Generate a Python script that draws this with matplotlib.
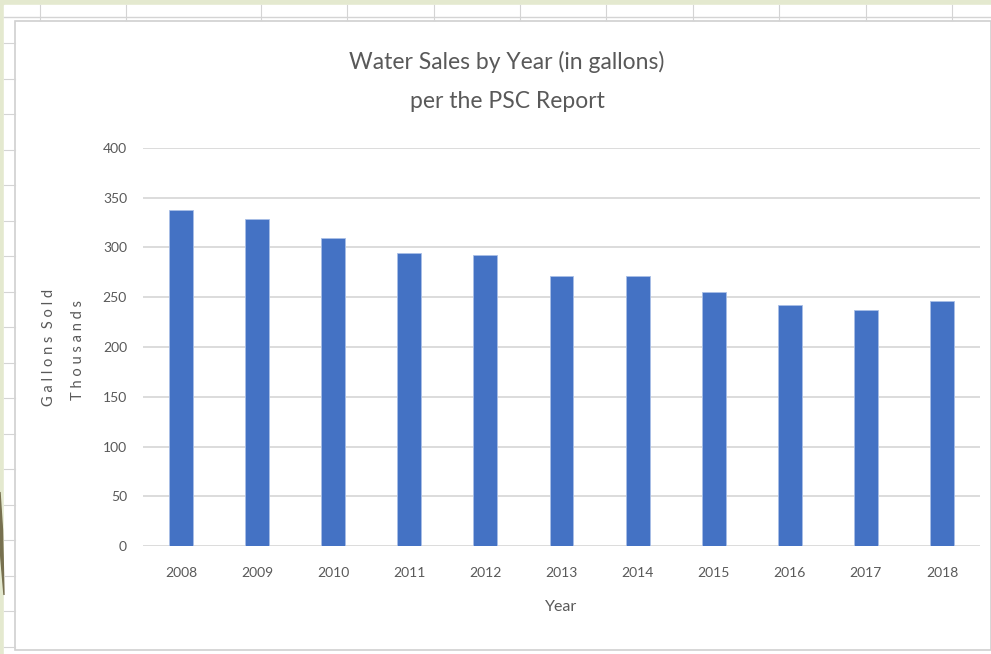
import numpy as np
import matplotlib.pyplot as plt
from matplotlib.patches import Rectangle, Polygon

# data (thousands of gallons)
years = ['2008', '2009', '2010', '2011', '2012', '2013',
         '2014', '2015', '2016', '2017', '2018']
sales = [338, 329, 310, 294, 292, 271, 271, 255, 242, 237, 246]
yticks = [0, 50, 100, 150, 200, 250, 300, 350, 400]

grey = '#595959'
plt.rcParams['font.family'] = ['Lato', 'DejaVu Sans']

fig = plt.figure(figsize=(9.91, 6.54), dpi=100)
fig.patch.set_facecolor('white')

W, H = 991.0, 654.0

# spreadsheet backdrop, drawn in pixel coords
bg = fig.add_axes([0, 0, 1, 1])
bg.set_xlim(0, W)
bg.set_ylim(H, 0)
bg.axis('off')
bg.add_patch(Rectangle((0, 0), W, H, color='#e4e9cf'))
bg.add_patch(Rectangle((4, 5), W, H, color='white'))
for x in [40, 126, 261, 347, 434, 520, 606, 693, 779, 866, 952]:
    bg.plot([x, x], [5, 20], color='#d4d4d4', lw=0.8)
bg.plot([4, W], [17, 17], color='#d4d4d4', lw=1)
for y in np.arange(43, H, 35.5):
    bg.plot([4, 15], [y, y], color='#d4d4d4', lw=0.8)
bg.add_patch(Polygon([[0, 492], [2.5, 530], [4, 595], [1, 560], [0, 545]],
                     color='#77704f'))
bg.add_patch(Rectangle((15, 21), W - 15, H - 25, facecolor='white',
                       edgecolor='#d0d0d0', lw=1.2))

ax = fig.add_axes([143 / W, 1 - 546 / H, (980 - 143) / W, (546 - 148) / H])
x = np.arange(len(years))
ax.bar(x, sales, width=0.315, color='#4472c4', edgecolor='#a9bfe6',
       linewidth=0.6, zorder=3)
ax.set_xlim(-0.5, len(years) - 0.5)
ax.set_ylim(0, 400)
ax.set_yticks(yticks)
ax.set_xticks(x)
ax.set_xticklabels(years)
ax.grid(axis='y', color='#d9d9d9', lw=1.3, zorder=0)
ax.set_axisbelow(True)
for s in ax.spines.values():
    s.set_visible(False)
ax.tick_params(length=0, colors=grey, labelsize=10)
ax.tick_params(axis='x', pad=15)
ax.tick_params(axis='y', pad=11.5)
ax.set_facecolor('none')

fig.text(507 / W, 1 - 62 / H, 'Water Sales by Year (in gallons)',
         ha='center', va='center', fontsize=16.5, color=grey)
fig.text(507 / W, 1 - 102 / H, 'per the PSC Report',
         ha='center', va='center', fontsize=16.5, color=grey)
fig.text(561 / W, 1 - 607 / H, 'Year', ha='center', va='center',
         fontsize=11.5, color=grey)
fig.text(49 / W, 1 - 347 / H, 'G a l l o n s  S o l d', rotation=90,
         ha='center', va='center', fontsize=10.5, color=grey)
fig.text(78 / W, 1 - 350 / H, 'T h o u s a n d s', rotation=90,
         ha='center', va='center', fontsize=10.5, color=grey)

fig.savefig('out.png', dpi=100)
